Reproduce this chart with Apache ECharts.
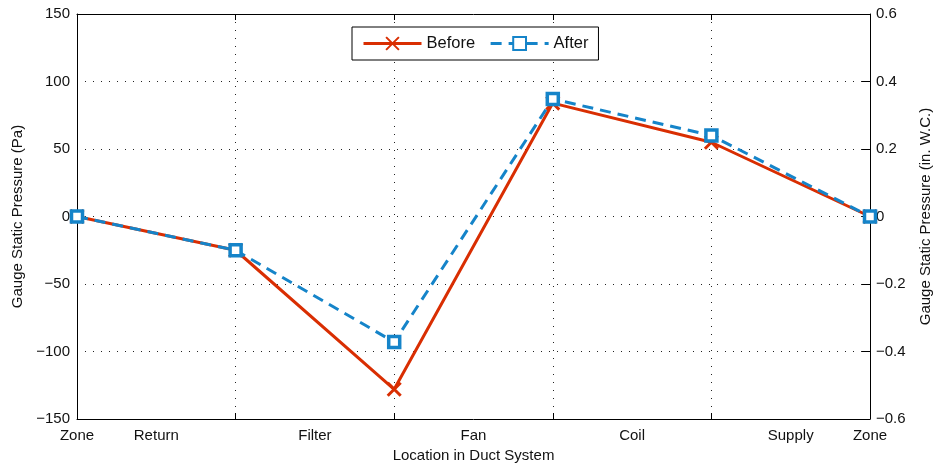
<!DOCTYPE html>
<html>
<head>
<meta charset="utf-8">
<script src="https://cdn.jsdelivr.net/npm/echarts@6/dist/echarts.min.js"></script>
<style>
  html, body { margin: 0; padding: 0; background: #fff; }
  #chart { width: 934px; height: 467px; }
</style>
</head>
<body>
<div id="chart"></div>
<script>
// Stations along the duct (x positions) and the location labels between them
const stations = [0, 1, 2, 3, 4, 5];
const locationPositions = [0, 0.5, 1.5, 2.5, 3.5, 4.5, 5];
const locationNames = ['Zone', 'Return', 'Filter', 'Fan', 'Coil', 'Supply', 'Zone'];

// Gauge static pressure at each station (Pa)
const beforePa = [0, -25, -128, 84, 55, 0];
const afterPa = [0, -25, -93, 87, 60, 0];

// Axis ranges
const paMin = -150, paMax = 150, paStep = 50;
const wcMin = -0.6, wcMax = 0.6, wcStep = 0.2;

const RED = '#D92E02';
const BLUE = '#1584C9';
const FONT = 'Liberation Sans, Arial, Helvetica, sans-serif';

const minus = s => String(s).replace('-', '\u2212');
const pairs = vals => stations.map((x, i) => [x, vals[i]]);

const chart = echarts.init(document.getElementById('chart'), null, { renderer: 'canvas' });

const dotted = { color: '#222', width: 1, type: [1, 7] };
const frame = { show: true, onZero: false, lineStyle: { color: '#000', width: 1 } };

chart.setOption({
  animation: false,
  backgroundColor: '#fff',
  textStyle: { fontFamily: FONT, color: '#111' },
  grid: { left: 77, right: 64, top: 14, bottom: 48, containLabel: false, outerBoundsMode: 'none' },
  legend: {
    left: 352, top: 27,
    padding: [8, 10, 8, 10],
    borderColor: '#000', borderWidth: 1,
    backgroundColor: '#fff',
    itemWidth: 58, itemHeight: 16, itemGap: 14,
    lineStyle: { width: 3 },
    textStyle: { fontFamily: FONT, fontSize: 16.5, color: '#111' },
    data: ['Before', 'After']
  },
  xAxis: [
    {
      type: 'value', position: 'bottom',
      min: 0, max: 5, interval: 1,
      name: 'Location in Duct System', nameLocation: 'middle', nameGap: 27,
      nameTextStyle: { fontFamily: FONT, fontSize: 15, color: '#111' },
      axisLine: frame,
      axisTick: { show: true, inside: true, length: 6, lineStyle: { color: '#000' } },
      axisLabel: {
        show: true, margin: 9,
        fontFamily: FONT, fontSize: 15, color: '#111',
        customValues: locationPositions,
        formatter: v => {
          const i = locationPositions.indexOf(v);
          return i >= 0 ? locationNames[i] : '';
        }
      },
      splitLine: { show: true, lineStyle: dotted }
    },
    {
      type: 'value', position: 'top',
      min: 0, max: 5, interval: 1,
      axisLine: frame,
      axisTick: { show: true, inside: true, length: 6, lineStyle: { color: '#000' } },
      axisLabel: { show: false },
      splitLine: { show: false }
    }
  ],
  yAxis: [
    {
      type: 'value', position: 'left',
      min: paMin, max: paMax, interval: paStep,
      name: 'Gauge Static Pressure (Pa)', nameLocation: 'middle', nameGap: 52, nameRotate: 90,
      nameTextStyle: { fontFamily: FONT, fontSize: 15, color: '#111' },
      axisLine: frame,
      axisTick: { show: false },
      axisLabel: { margin: 7, fontFamily: FONT, fontSize: 15, color: '#111', formatter: v => minus(v) },
      splitLine: { show: true, lineStyle: dotted }
    },
    {
      type: 'value', position: 'right',
      min: wcMin, max: wcMax, interval: wcStep,
      name: 'Gauge Static Pressure (in. W.C.)', nameLocation: 'middle', nameGap: 48, nameRotate: 90,
      nameTextStyle: { fontFamily: FONT, fontSize: 15, color: '#111' },
      axisLine: frame,
      axisTick: { show: true, inside: true, length: 8, lineStyle: { color: '#000' } },
      axisLabel: {
        margin: 6, fontFamily: FONT, fontSize: 15, color: '#111',
        formatter: v => Math.abs(v) < 1e-9 ? '0' : minus(v.toFixed(1))
      },
      splitLine: { show: false }
    }
  ],
  series: [
    {
      name: 'Before', type: 'line',
      xAxisIndex: 0, yAxisIndex: 0,
      data: pairs(beforePa),
      symbol: 'path://M0 0L10 10M10 0L0 10',
      symbolSize: 13,
      showAllSymbol: true,
      lineStyle: { color: RED, width: 3 },
      itemStyle: { color: RED, borderColor: RED, borderWidth: 3 },
      z: 2
    },
    {
      name: 'After', type: 'line',
      xAxisIndex: 0, yAxisIndex: 0,
      data: pairs(afterPa),
      symbol: 'rect',
      symbolSize: 11,
      showAllSymbol: true,
      lineStyle: { color: BLUE, width: 3, type: [11, 7] },
      itemStyle: { color: '#fff', borderColor: BLUE, borderWidth: 3.5 },
      z: 3
    }
  ]
});
</script>
</body>
</html>
